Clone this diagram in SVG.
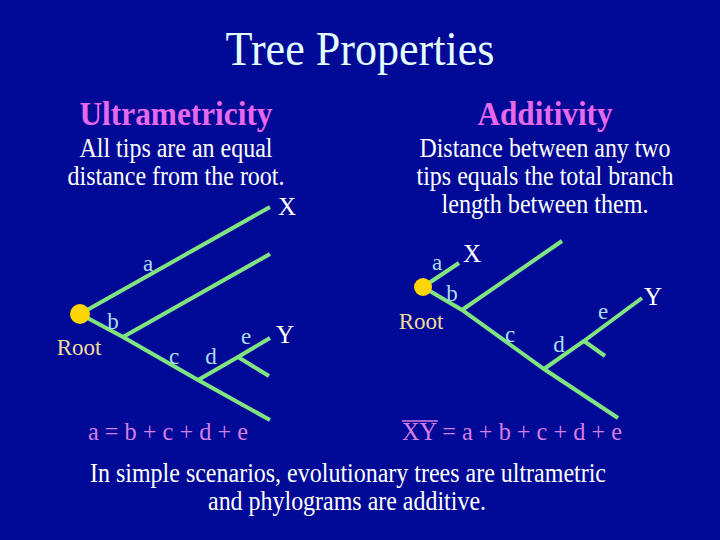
<svg xmlns="http://www.w3.org/2000/svg" width="720" height="540" viewBox="0 0 720 540">
<style>
text{font-family:"Liberation Serif","Times New Roman",serif;}
.title{font-size:48px;fill:#e4fcff;}
.head{font-size:33px;font-weight:bold;fill:#e868ec;}
.body{font-size:27px;fill:#ffffff;}
.lbl{font-size:23px;fill:#a8dcf4;}
.tip{font-size:25px;fill:#ffffff;}
.root{font-size:23px;fill:#f4dc98;}
.eq{font-size:26px;fill:#d67ee8;}
.br{stroke:#80e480;stroke-width:4;stroke-linecap:butt;fill:none;}
.dot{fill:#ffd600;}
</style>
<rect width="720" height="540" fill="#000a96"/>
<g id="title"><text class="title" x="360" y="65" text-anchor="middle" textLength="269" lengthAdjust="spacingAndGlyphs">Tree Properties</text></g>
<g id="left-text">
<text class="head" x="176" y="125" text-anchor="middle" textLength="193" lengthAdjust="spacingAndGlyphs">Ultrametricity</text>
<text class="body" x="176" y="157" text-anchor="middle" textLength="193" lengthAdjust="spacingAndGlyphs">All tips are an equal</text>
<text class="body" x="176" y="185" text-anchor="middle" textLength="217" lengthAdjust="spacingAndGlyphs">distance from the root.</text>
</g>
<g id="right-text">
<text class="head" x="545" y="125" text-anchor="middle" textLength="135" lengthAdjust="spacingAndGlyphs">Additivity</text>
<text class="body" x="545" y="157" text-anchor="middle" textLength="251" lengthAdjust="spacingAndGlyphs">Distance between any two</text>
<text class="body" x="545" y="185" text-anchor="middle" textLength="257" lengthAdjust="spacingAndGlyphs">tips equals the total branch</text>
<text class="body" x="545" y="213" text-anchor="middle" textLength="207" lengthAdjust="spacingAndGlyphs">length between them.</text>
</g>
<g id="connectors">
<polyline class="br" points="80,314 270,207"/>
<polyline class="br" points="80,314 123,337 198,380 270,420"/>
<polyline class="br" points="123,337 270,254"/>
<polyline class="br" points="198,380 238,357 270,338"/>
<polyline class="br" points="238,357 269,376"/>
<polyline class="br" points="423,287 459,263"/>
<polyline class="br" points="423,287 462,310 544,369 618,418"/>
<polyline class="br" points="462,310 562,241"/>
<polyline class="br" points="544,369 584,341 642,298"/>
<polyline class="br" points="584,341 605,356"/>
</g>
<g id="left-root"><circle class="dot" cx="80" cy="314" r="10"/><text class="root" x="79" y="355" text-anchor="middle">Root</text></g>
<g id="left-labels">
<text class="lbl" x="148" y="271" text-anchor="middle">a</text>
<text class="lbl" x="113" y="329" text-anchor="middle">b</text>
<text class="lbl" x="174" y="364" text-anchor="middle">c</text>
<text class="lbl" x="211" y="364" text-anchor="middle">d</text>
<text class="lbl" x="246" y="344" text-anchor="middle">e</text>
<text class="tip" x="287" y="215" text-anchor="middle">X</text>
<text class="tip" x="285" y="343" text-anchor="middle">Y</text>
</g>
<g id="right-root"><circle class="dot" cx="423" cy="287" r="9"/><text class="root" x="421" y="329" text-anchor="middle">Root</text></g>
<g id="right-labels">
<text class="lbl" x="437" y="270" text-anchor="middle">a</text>
<text class="lbl" x="452" y="301" text-anchor="middle">b</text>
<text class="lbl" x="510" y="342" text-anchor="middle">c</text>
<text class="lbl" x="559" y="352" text-anchor="middle">d</text>
<text class="lbl" x="603" y="319" text-anchor="middle">e</text>
<text class="tip" x="472" y="262" text-anchor="middle">X</text>
<text class="tip" x="653" y="305" text-anchor="middle">Y</text>
</g>
<g id="equations">
<text class="eq" x="168" y="440" text-anchor="middle" textLength="160" lengthAdjust="spacingAndGlyphs">a = b + c + d + e</text>
<text class="eq" x="512" y="440" text-anchor="middle" textLength="220" lengthAdjust="spacingAndGlyphs">XY = a + b + c + d + e</text>
<line x1="402" y1="421" x2="438" y2="421" stroke="#d67ee8" stroke-width="1.5"/>
</g>
<g id="footer">
<text class="body" x="348" y="482" text-anchor="middle" textLength="516" lengthAdjust="spacingAndGlyphs">In simple scenarios, evolutionary trees are ultrametric</text>
<text class="body" x="347" y="510" text-anchor="middle" textLength="278" lengthAdjust="spacingAndGlyphs">and phylograms are additive.</text>
</g>
</svg>
